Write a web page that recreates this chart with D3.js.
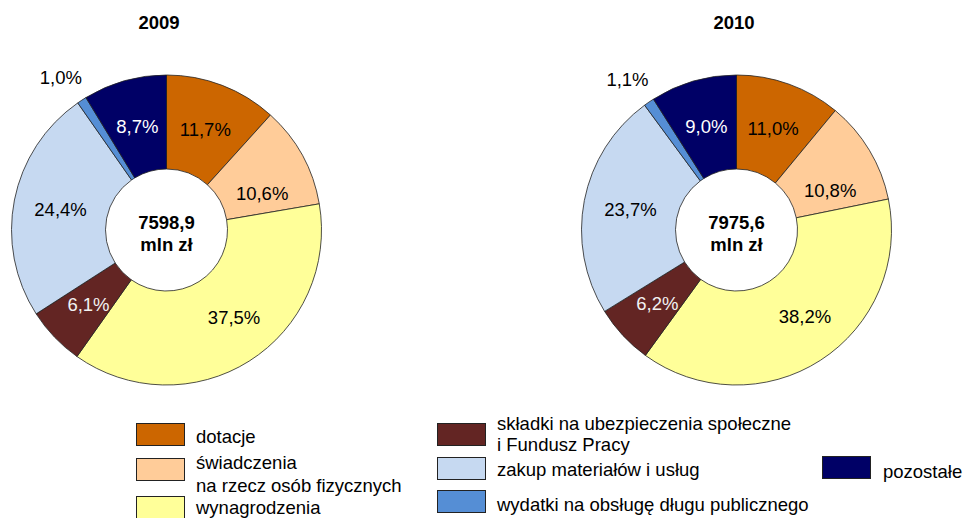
<!DOCTYPE html>
<html>
<head>
<meta charset="utf-8">
<script src="https://cdn.jsdelivr.net/npm/d3@7"></script>
<style>
  html, body { margin: 0; padding: 0; background: #fff; }
  svg { display: block; font-family: "Liberation Sans", Arial, sans-serif; }
</style>
</head>
<body>
<svg id="chart" width="965" height="518"></svg>
<script>
// ---- data ----
const categories = [
  "dotacje",
  "świadczenia na rzecz osób fizycznych",
  "wynagrodzenia",
  "składki na ubezpieczenia społeczne i Fundusz Pracy",
  "zakup materiałów i usług",
  "wydatki na obsługę długu publicznego",
  "pozostałe"
];
const years = ["2009", "2010"];
const shares2009 = [11.7, 10.6, 37.5, 6.1, 24.4, 1.0, 8.7];
const shares2010 = [11.0, 10.8, 38.2, 6.2, 23.7, 1.1, 9.0];
const totals = ["7598,9", "7975,6"];
const totalUnit = "mln zł";
const colors = ["#CC6600", "#FFCC99", "#FFFF99", "#632523", "#C6D9F1", "#558ED5", "#000066"];
const labelColors = ["#000", "#000", "#000", "#f2f2f2", "#000", "#000", "#fff"];

// ---- layout ----
const svg = d3.select("#chart");
const FS = 18.5;
const outerR = 155, innerR = 61;
const centersX = [166.5, 736.5];
const centerY = 230;
const titleX = [159, 734];
const fmt = v => d3.format(".1f")(v).replace(".", ",") + "%";

const pie = d3.pie().sort(null).value(d => d);
const arc = d3.arc().innerRadius(innerR).outerRadius(outerR);
const labelArcIn = d3.arc().innerRadius(108).outerRadius(108);
const labelArcOut = d3.arc().innerRadius(186).outerRadius(186);
// small label nudges (Excel-like placement)
const nudge = {1: [1, 16], 2: [10, -4], 5: [-4, 3]};

[shares2009, shares2010].forEach((vals, k) => {
  const g = svg.append("g").attr("transform", `translate(${centersX[k]},${centerY})`);
  const arcs = pie(vals);
  g.selectAll("path.slice").data(arcs).join("path")
    .attr("class", "slice")
    .attr("d", arc)
    .attr("fill", (d, i) => colors[i])
    .attr("stroke", "#222")
    .attr("stroke-width", 0.8);

  g.selectAll("text.lbl").data(arcs).join("text")
    .attr("class", "lbl")
    .attr("transform", (d, i) => {
      const c = (d.data < 3 ? labelArcOut : labelArcIn).centroid(d);
      const n = nudge[i] || [0, 0];
      return `translate(${c[0] + n[0]},${c[1] + n[1]})`;
    })
    .attr("text-anchor", "middle")
    .attr("dominant-baseline", "central")
    .attr("font-size", FS)
    .attr("fill", (d, i) => d.data < 3 ? "#000" : labelColors[i])
    .text(d => fmt(d.data));

  g.append("text")
    .attr("y", -8).attr("text-anchor", "middle").attr("dominant-baseline", "central")
    .attr("font-size", FS).attr("font-weight", "bold")
    .text(totals[k]);
  g.append("text")
    .attr("y", 14).attr("text-anchor", "middle").attr("dominant-baseline", "central")
    .attr("font-size", FS).attr("font-weight", "bold")
    .text(totalUnit);

  svg.append("text")
    .attr("x", titleX[k]).attr("y", 29)
    .attr("text-anchor", "middle")
    .attr("font-size", FS).attr("font-weight", "bold")
    .text(years[k]);
});

// ---- legend ----
const legendLayout = [
  {x: 136, y: 423, lines: ["dotacje"], base: [443]},
  {x: 136, y: 458, lines: ["świadczenia", "na rzecz osób fizycznych"], base: [469, 492]},
  {x: 136, y: 496, lines: ["wynagrodzenia"], base: [514]},
  {x: 437, y: 423, lines: ["składki na ubezpieczenia społeczne", "i Fundusz Pracy"], base: [430, 451]},
  {x: 437, y: 457, lines: ["zakup materiałów i usług"], base: [476]},
  {x: 437, y: 490, lines: ["wydatki na obsługę długu publicznego"], base: [511]},
  {x: 822, y: 456, lines: ["pozostałe"], base: [478]}
];
const leg = svg.append("g");
categories.forEach((c, i) => {
  const L = legendLayout[i];
  leg.append("rect")
    .attr("x", L.x + 0.5).attr("y", L.y + 0.5)
    .attr("width", 48).attr("height", 22)
    .attr("fill", colors[i]).attr("stroke", "#222").attr("stroke-width", 1);
  L.lines.forEach((t, j) => {
    leg.append("text")
      .attr("x", L.x + (i === 6 ? 61 : 60)).attr("y", L.base[j])
      .attr("font-size", FS).attr("fill", "#000")
      .text(t);
  });
});
</script>
</body>
</html>
